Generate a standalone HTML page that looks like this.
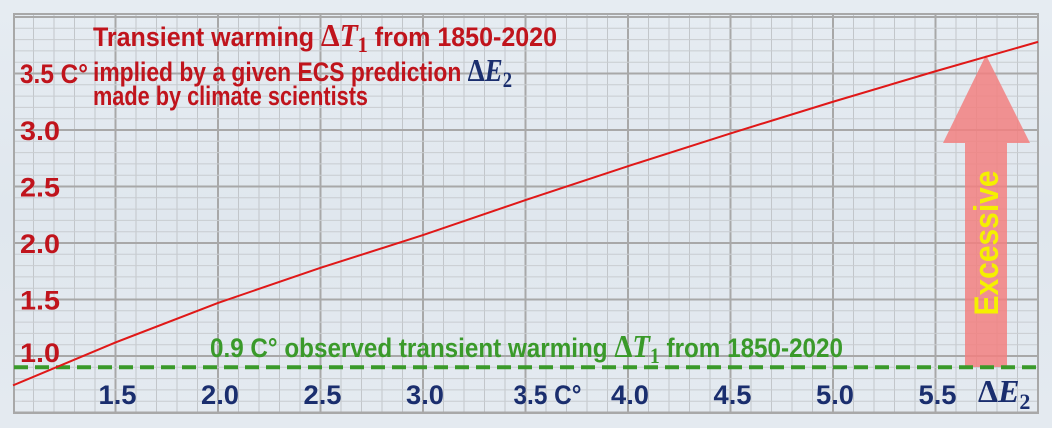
<!DOCTYPE html>
<html><head><meta charset="utf-8"><style>
html,body{margin:0;padding:0;width:1052px;height:428px;overflow:hidden}
svg{display:block}
text{font-family:"Liberation Sans",sans-serif;font-weight:bold}
.serif{font-family:"Liberation Serif",serif;font-weight:bold}
.it{font-style:italic}
</style></head><body>
<svg id="chart" width="1052" height="428" viewBox="0 0 1052 428">
<defs>
<linearGradient id="bg" x1="0" y1="0" x2="0" y2="1">
<stop offset="0" stop-color="#e6ecf2"/><stop offset="0.5" stop-color="#e0e7ee"/><stop offset="1" stop-color="#e4eaf0"/>
</linearGradient>
</defs>
<rect width="1052" height="428" fill="url(#bg)"/>
<g id="grid"></g>
<g id="arrow">
<polygon points="965,367 1007,367 1007,143 1030,143 986,55 943,143 965,143" fill="#f28080" opacity="0.85"/>
<text x="0" y="0" transform="translate(998,243) rotate(-90)" text-anchor="middle" fill="#f5f000" font-size="34" textLength="145" lengthAdjust="spacingAndGlyphs">Excessive</text>
</g>
<g id="series"></g>
<g id="labels">
<text x="93" y="46" fill="#c0141c" font-size="27" textLength="464" lengthAdjust="spacingAndGlyphs">Transient warming <tspan class="serif" font-size="32">Δ</tspan><tspan class="serif it" font-size="32">T</tspan><tspan class="serif" font-size="22" dy="6">1</tspan><tspan dy="-6"> from 1850-2020</tspan></text>
<text x="93" y="81" fill="#c0141c" font-size="27" textLength="419" lengthAdjust="spacingAndGlyphs">implied by a given ECS prediction <tspan class="serif" font-size="32" fill="#1a2e6e">Δ</tspan><tspan class="serif it" font-size="32" fill="#1a2e6e">E</tspan><tspan class="serif" font-size="22" dy="6" fill="#1a2e6e">2</tspan></text>
<text x="93" y="105" fill="#c0141c" font-size="27" textLength="275" lengthAdjust="spacingAndGlyphs">made by climate scientists</text>
<text x="20" y="83" fill="#c0141c" font-size="27" textLength="68" lengthAdjust="spacingAndGlyphs">3.5 C°</text>
<text x="210" y="357" fill="#3a9a2a" font-size="27" textLength="633" lengthAdjust="spacingAndGlyphs">0.9 C° observed transient warming <tspan class="serif" font-size="32">Δ</tspan><tspan class="serif it" font-size="32">T</tspan><tspan class="serif" font-size="22" dy="6">1</tspan><tspan dy="-6"> from 1850-2020</tspan></text>
<text x="978" y="402" fill="#1a2e6e" class="serif" font-size="32">Δ<tspan class="it">E</tspan><tspan font-size="22" dy="7">2</tspan></text>
</g>
</svg>
<script>
const xCats=[1.0,1.5,2.0,2.5,3.0,3.5,4.0,4.5,5.0,5.5,6.0];
const yVals=[0.74,1.12,1.47,1.78,2.07,2.38,2.68,2.97,3.25,3.52,3.78];
const xTicks=["1.5","2.0","2.5","3.0","3.5 C°","4.0","4.5","5.0","5.5"];
const xTickVals=[1.5,2.0,2.5,3.0,3.5,4.0,4.5,5.0,5.5];
const yTicks=["1.0","1.5","2.0","2.5","3.0"];
const yTickVals=[1.0,1.5,2.0,2.5,3.0];
const observed=[0.9];
const L=14,R=1038,T=14,B=413;
const sx=v=>13+(v-1.0)*205;
const sy=v=>356-(v-1.0)*113;
const NS="http://www.w3.org/2000/svg";
function mk(tag,attrs,parent){const e=document.createElementNS(NS,tag);for(const k in attrs)e.setAttribute(k,attrs[k]);parent.appendChild(e);return e;}
const grid=document.getElementById('grid');
for(let i=0;i<=60;i++){const v=1.0+i*0.1;const x=sx(v);if(x<L-0.5||x>R+0.5)continue;const maj=i%5===0;
const l=mk('line',{x1:x,x2:x,y1:T,y2:B,stroke:maj?'#a8a8a8':'#c2c6ca','stroke-width':maj?2:1},grid);

}
for(let i=-6;i<=32;i++){const v=1.0+i*0.1;const y=sy(v);if(y<T-0.5||y>B+0.5)continue;const maj=((i%5)+5)%5===0;
const l=mk('line',{x1:L,x2:R,y1:y,y2:y,stroke:maj?'#a8a8a8':'#c8ccd0','stroke-width':maj?2:1},grid);

}
const fr=mk('rect',{x:L,y:T,width:R-L,height:B-T,fill:'none',stroke:'#a8a8a8','stroke-width':2},grid);


const series=document.getElementById('series');
const ol=mk('line',{x1:L,x2:R,y1:sy(observed[0]),y2:sy(observed[0]),stroke:'#3a9a2a','stroke-width':4,'stroke-dasharray':'14,7'},series);


const pts=xCats.map((c,i)=>sx(c)+','+sy(yVals[i])).join(' ');
const pl=mk('polyline',{points:pts,fill:'none',stroke:'#e01818','stroke-width':2,'stroke-linejoin':'round'},series);


const labels=document.getElementById('labels');
xTicks.forEach((t,i)=>{const w=t.length>3?68:38;const tx=mk('text',{x:sx(xTickVals[i])+(t.length>3?-12:2)-0,y:404,fill:'#1a2e6e','font-size':27,textLength:w,lengthAdjust:'spacingAndGlyphs'},labels);
tx.setAttribute('x',sx(xTickVals[i])-(t.length>3?12:17)+(t.length>3?0:0));
tx.textContent=t;

});
yTicks.forEach((t,i)=>{const tx=mk('text',{x:20,y:sy(yTickVals[i])+10-(i===0?4:0),fill:'#c0141c','font-size':27,textLength:40,lengthAdjust:'spacingAndGlyphs'},labels);tx.textContent=t;

});
</script>
</body></html>
